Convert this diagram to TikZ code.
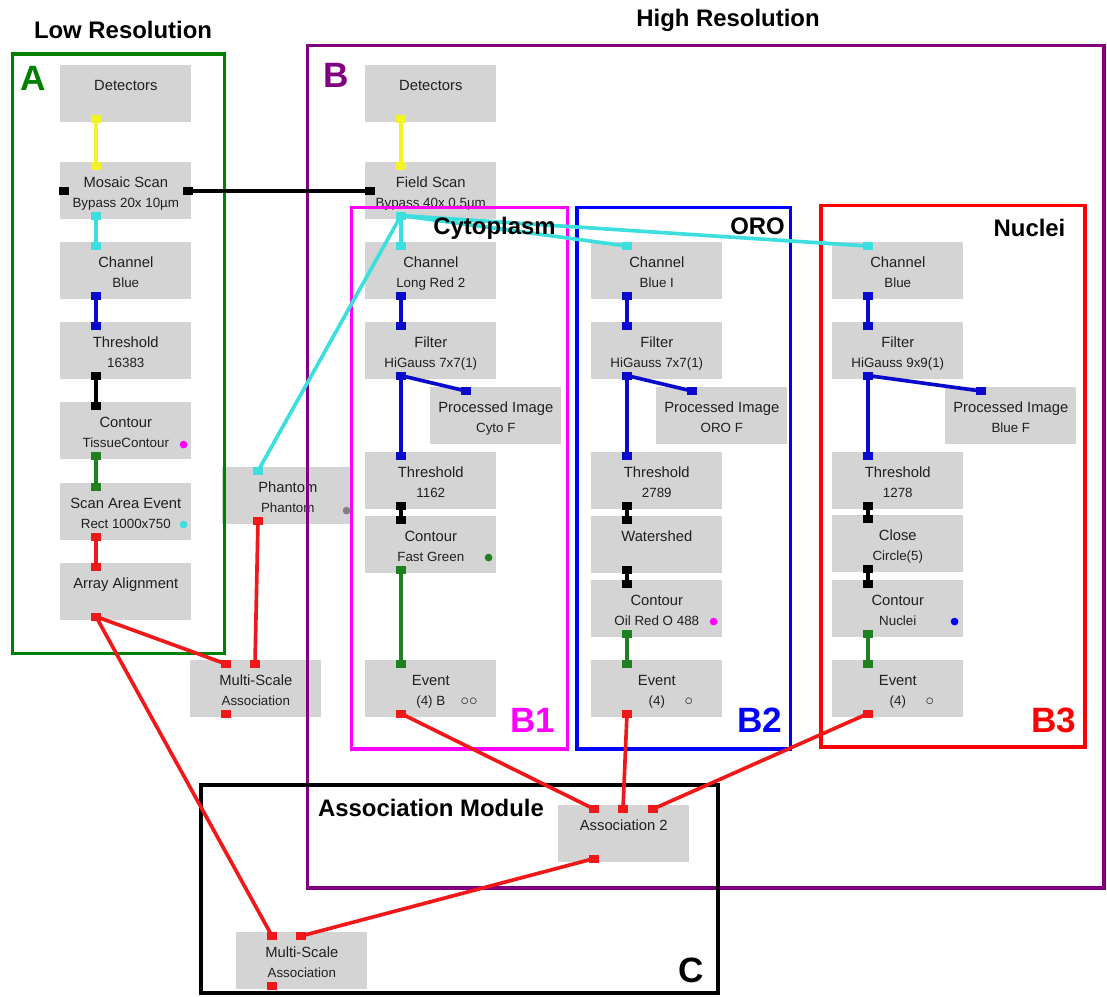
\documentclass[tikz,border=0pt]{standalone}
\usepackage{fontspec}
\setmainfont{Liberation Sans}
\usetikzlibrary{calc}
\definecolor{modFill}{HTML}{D4D4D4}
\definecolor{modText}{HTML}{202020}
\definecolor{wireYellow}{HTML}{F2F226}
\definecolor{wireCyan}{HTML}{3CDEDE}
\definecolor{wireBlue}{HTML}{0A0ACC}
\definecolor{wireGreen}{HTML}{1E801E}
\definecolor{wireRed}{HTML}{F01818}
\definecolor{frameGreen}{HTML}{008000}
\definecolor{framePurple}{HTML}{800080}
\definecolor{frameMagenta}{HTML}{FF00FF}
\definecolor{frameBlue}{HTML}{0000FF}
\definecolor{frameRed}{HTML}{FF0000}

% two-line module text
\newcommand{\mtext}[2]{\rule{0pt}{14.1pt}#1\\{\fontsize{9.5}{14.2}\selectfont\strut#2}}
% open event marks
\newcommand{\evmark}[1]{{\fontsize{13}{14.2}\selectfont$#1$}}
% connector with its two square pads
\newcommand{\modlink}[3]{\draw[wire=#1] (#2) -- (#3) node[pad=#1]{} (#2) node[pad=#1]{};}

\begin{document}
\begin{tikzpicture}[
  x=0.025cm, y=-0.025cm,
  modbox/.style={
    rectangle, anchor=north west,
    fill=modFill, inner sep=0pt,
    minimum width=3.275cm, minimum height=1.425cm,
    align=center, text=modText,
    font=\fontsize{10.5}{14.2}\selectfont
  },
  wire/.style={draw=#1, line width=2.6pt},
  pad/.style={rectangle, inner sep=0pt, minimum width=7pt, minimum height=5.7pt, fill=#1},
  statusdot/.style={circle, inner sep=0pt, minimum size=5.5pt, fill=#1},
  groupframe/.style={draw=#1, line width=2.8pt},
  regionlabel/.style={font=\fontsize{17}{20}\selectfont\bfseries, text=black, text depth=0pt},
  grouptag/.style={font=\fontsize{25}{30}\selectfont\bfseries, text=#1, text depth=0pt}
]

% Force picture size 1107 x 996 px
\useasboundingbox (0,0) rectangle (1107,996);

% Low resolution column
\node[modbox] (aDet) at (60,65) {\mtext{Detectors}{}};
\node[modbox] (aMos) at (60,162) {\mtext{Mosaic Scan}{Bypass 20x 10µm}};
\node[modbox] (aCh) at (60,242) {\mtext{Channel}{Blue}};
\node[modbox] (aThr) at (60,322) {\mtext{Threshold}{16383}};
\node[modbox] (aCon) at (60,402) {\mtext{Contour}{TissueContour}};
\node[modbox] (aEvt) at (60,483) {\mtext{Scan Area Event}{Rect 1000x750}};
\node[modbox] (aArr) at (60,563) {\mtext{Array Alignment}{}};

% High resolution, cytoplasm
\node[modbox] (bDet) at (365,65) {\mtext{Detectors}{}};
\node[modbox] (bFld) at (365,162) {\mtext{Field Scan}{Bypass 40x 0.5µm}};
\node[modbox] (b1Ch) at (365,242) {\mtext{Channel}{Long Red 2}};
\node[modbox] (b1Fil) at (365,322) {\mtext{Filter}{HiGauss 7x7(1)}};
\node[modbox] (b1Img) at (430,387) {\mtext{Processed Image}{Cyto F}};
\node[modbox] (b1Thr) at (365,452) {\mtext{Threshold}{1162}};
\node[modbox] (b1Con) at (365,516) {\mtext{Contour}{Fast Green}};
\node[modbox] (b1Evt) at (365,660) {\mtext{Event}{(4) B\rlap{\hspace{11pt}\evmark{\circ\circ}}}};

% ORO
\node[modbox] (b2Ch) at (591,242) {\mtext{Channel}{Blue I}};
\node[modbox] (b2Fil) at (591,322) {\mtext{Filter}{HiGauss 7x7(1)}};
\node[modbox] (b2Img) at (656,387) {\mtext{Processed Image}{ORO F}};
\node[modbox] (b2Thr) at (591,452) {\mtext{Threshold}{2789}};
\node[modbox] (b2Wat) at (591,516) {\mtext{Watershed}{}};
\node[modbox] (b2Con) at (591,580) {\mtext{Contour}{Oil Red O 488}};
\node[modbox] (b2Evt) at (591,660) {\mtext{Event}{(4)\rlap{\hspace{14pt}\evmark{\circ}}}};

% Nuclei
\node[modbox] (b3Ch) at (832,242) {\mtext{Channel}{Blue}};
\node[modbox] (b3Fil) at (832,322) {\mtext{Filter}{HiGauss 9x9(1)}};
\node[modbox] (b3Img) at (945,387) {\mtext{Processed Image}{Blue F}};
\node[modbox] (b3Thr) at (832,452) {\mtext{Threshold}{1278}};
\node[modbox] (b3Cls) at (832,515) {\mtext{Close}{Circle(5)}};
\node[modbox] (b3Con) at (832,580) {\mtext{Contour}{Nuclei}};
\node[modbox] (b3Evt) at (832,660) {\mtext{Event}{(4)\rlap{\hspace{14pt}\evmark{\circ}}}};

% Phantom and association modules
\node[modbox] (ph) at (222,467) {\mtext{Phantom}{Phantom}};
\node[modbox] (msa1) at (190,660) {\mtext{Multi-Scale}{Association}};
\node[modbox] (asc) at (558,805) {\mtext{Association 2}{}};
\node[modbox] (msa2) at (236,932) {\mtext{Multi-Scale}{Association}};

% Pad points
\foreach \n in {aDet,aMos,aCh,aThr,aCon,aEvt,aArr,bDet,bFld,b1Ch,b1Fil,b1Img,b1Thr,b1Con,b1Evt,
                b2Ch,b2Fil,b2Img,b2Thr,b2Wat,b2Con,b2Evt,b3Ch,b3Fil,b3Img,b3Thr,b3Cls,b3Con,b3Evt,
                ph,msa1,asc,msa2}{
  \coordinate (\n-in) at ($(\n.north west)+(36,4)$);
  \coordinate (\n-out) at ($(\n.south west)+(36,-4)$);
}
\coordinate (aMos-l) at ($(aMos.west)+(4,0)$);
\coordinate (aMos-r) at ($(aMos.east)+(-4,0)$);
\coordinate (bFld-l) at ($(bFld.west)+(5,0)$);
\coordinate (msa1-in2) at ($(msa1.north west)+(65,4)$);
\coordinate (msa2-in2) at ($(msa2.north west)+(65,4)$);
\coordinate (asc-in2) at ($(asc.north west)+(65,4)$);
\coordinate (asc-in3) at ($(asc.north west)+(95,4)$);

% Group frames
\draw[groupframe=frameGreen] (12.5,54) rectangle (224.5,653.5);
\draw[groupframe=framePurple] (307.5,45.5) rectangle (1104,888);
\draw[groupframe=frameMagenta] (351.5,207.5) rectangle (567.5,749);
\draw[groupframe=frameBlue] (577,207.5) rectangle (790.5,749);
\draw[groupframe=frameRed] (821,205.5) rectangle (1085,747);
\draw[groupframe=black] (201,785) rectangle (718,993);

% Low resolution wires
\modlink{wireYellow}{aDet-out}{aMos-in}
\modlink{wireCyan}{aMos-out}{aCh-in}
\modlink{wireBlue}{aCh-out}{aThr-in}
\modlink{black}{aThr-out}{aCon-in}
\modlink{wireGreen}{aCon-out}{aEvt-in}
\modlink{wireRed}{aEvt-out}{aArr-in}
\node[pad=black] (aMosPad) at (aMos-l) {};
\modlink{black}{aMos-r}{bFld-l}

% High resolution wires
\modlink{wireYellow}{bDet-out}{bFld-in}
\modlink{wireCyan}{bFld-out}{ph-in}
\modlink{wireCyan}{bFld-out}{b3Ch-in}
\modlink{wireCyan}{bFld-out}{b2Ch-in}
\modlink{wireCyan}{bFld-out}{b1Ch-in}

\modlink{wireBlue}{b1Ch-out}{b1Fil-in}
\modlink{wireBlue}{b1Fil-out}{b1Img-in}
\modlink{wireBlue}{b1Fil-out}{b1Thr-in}
\modlink{black}{b1Thr-out}{b1Con-in}
\modlink{wireGreen}{b1Con-out}{b1Evt-in}

\modlink{wireBlue}{b2Ch-out}{b2Fil-in}
\modlink{wireBlue}{b2Fil-out}{b2Img-in}
\modlink{wireBlue}{b2Fil-out}{b2Thr-in}
\modlink{black}{b2Thr-out}{b2Wat-in}
\modlink{black}{b2Wat-out}{b2Con-in}
\modlink{wireGreen}{b2Con-out}{b2Evt-in}

\modlink{wireBlue}{b3Ch-out}{b3Fil-in}
\modlink{wireBlue}{b3Fil-out}{b3Img-in}
\modlink{wireBlue}{b3Fil-out}{b3Thr-in}
\modlink{black}{b3Thr-out}{b3Cls-in}
\modlink{black}{b3Cls-out}{b3Con-in}
\modlink{wireGreen}{b3Con-out}{b3Evt-in}

% Association wires
\modlink{wireRed}{b1Evt-out}{asc-in}
\modlink{wireRed}{b2Evt-out}{asc-in2}
\modlink{wireRed}{b3Evt-out}{asc-in3}
\modlink{wireRed}{asc-out}{msa2-in2}
\modlink{wireRed}{aArr-out}{msa1-in}
\modlink{wireRed}{aArr-out}{msa2-in}
\modlink{wireRed}{ph-out}{msa1-in2}
\node[pad=wireRed] (msa1Pad) at (msa1-out) {};
\node[pad=wireRed] (msa2Pad) at (msa2-out) {};

% Status dots
\node[statusdot=frameMagenta] (aConDot) at ($(aCon.south east)+(-8,-15)$) {};
\node[statusdot=wireCyan] (aEvtDot) at ($(aEvt.south east)+(-8,-16)$) {};
\node[statusdot=gray] (phDot) at ($(ph.south east)+(-7,-14)$) {};
\node[statusdot=wireGreen] (b1ConDot) at ($(b1Con.south east)+(-8,-16)$) {};
\node[statusdot=frameMagenta] (b2ConDot) at ($(b2Con.south east)+(-9,-16)$) {};
\node[statusdot=frameBlue] (b3ConDot) at ($(b3Con.south east)+(-9,-16)$) {};

% Labels
\node[regionlabel] (lowRes) at (123,30) {Low Resolution};
\node[regionlabel] (highRes) at (728,18) {High Resolution};
\node[grouptag=frameGreen] (tagA) at (33,78) {A};
\node[grouptag=framePurple] (tagB) at (336,75) {B};
\node[regionlabel] (cytoLbl) at (494.5,226) {Cytoplasm};
\node[regionlabel] (oroLbl) at (757.5,226) {ORO};
\node[regionlabel] (nucLbl) at (1029.5,228) {Nuclei};
\node[grouptag=frameMagenta] (tagB1) at (533,720) {B1};
\node[grouptag=frameBlue] (tagB2) at (759.5,720) {B2};
\node[grouptag=frameRed] (tagB3) at (1053.5,720) {B3};
\node[regionlabel] (ascLbl) at (431,808) {Association Module};
\node[grouptag=black] (tagC) at (691,970) {C};

\end{tikzpicture}
\end{document}
